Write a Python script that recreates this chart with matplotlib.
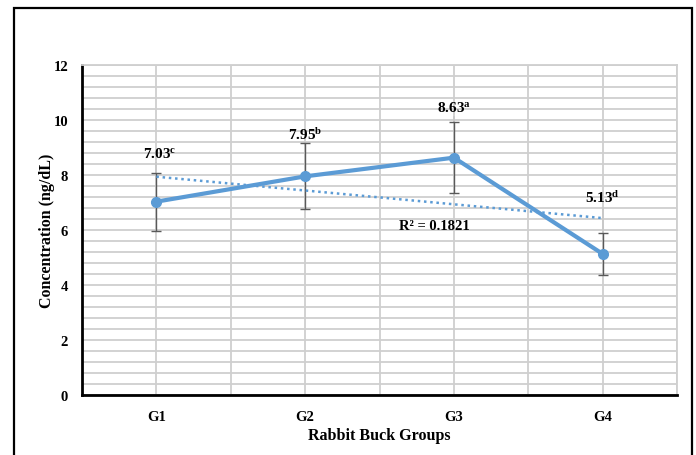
import numpy as np
import matplotlib
matplotlib.use("Agg")
import matplotlib.pyplot as plt
from matplotlib.ticker import MultipleLocator
from matplotlib.patches import Rectangle

groups = ["G1", "G2", "G3", "G4"]
means = [7.03, 7.95, 8.63, 5.13]
errors = [1.05, 1.20, 1.30, 0.76]
letters = ["c", "b", "a", "d"]

plt.rcParams['font.family'] = ['Liberation Serif', 'DejaVu Serif']
plt.rcParams['font.weight'] = 'bold'
plt.rcParams['mathtext.fontset'] = 'custom'
plt.rcParams['mathtext.rm'] = 'Liberation Serif:bold'
plt.rcParams['mathtext.it'] = 'Liberation Serif:bold'
plt.rcParams['mathtext.bf'] = 'Liberation Serif:bold'

fig = plt.figure(figsize=(6.96, 4.56), dpi=100)
ax = fig.add_axes([0.1178, 0.1316, 0.855, 0.7237])

# outer frame
fig.patches.append(Rectangle((14 / 696, -0.05), (692 - 14) / 696, 1.05 - 9 / 456,
                             transform=fig.transFigure, fill=False,
                             edgecolor='black', linewidth=1.6, zorder=0))

x = np.arange(len(groups))
blue = '#5B9BD5'

ax.errorbar(x, means, yerr=errors, fmt='none', ecolor='#595959',
            elinewidth=1, capsize=3.5, capthick=1, zorder=3)
ax.plot(x, means, color=blue, linewidth=3, marker='o', markersize=7, zorder=4)

# linear trendline
slope, intercept = np.polyfit(x, means, 1)
fit = slope * x + intercept
r2 = 1 - np.sum((np.array(means) - fit) ** 2) / np.sum((np.array(means) - np.mean(means)) ** 2)
ax.plot(x, fit, color=blue, linestyle=(0, (1, 1.5)), linewidth=1.8, zorder=3)
ax.text(1.87, 6.18, "R² = %.4f" % r2, fontsize=10.5, fontweight='bold',
        ha='center', va='center')

# data labels with leader lines
label_y = [8.55, 9.2, 10.2, 6.9]
label_dx = [0.02, 0.0, 0.0, 0.0]
for xi, m, e, ly, lt, dx in zip(x, means, errors, label_y, letters, label_dx):
    ax.plot([xi, xi], [m + e, ly - 0.1], color='#c8c8c8', linewidth=1.2, zorder=2)
    ax.text(xi + dx, ly, "%.2f$^{\\mathrm{%s}}$" % (m, lt), fontsize=11,
            fontweight='bold', ha='center', va='bottom')

ax.set_xlim(-0.5, 3.5)
ax.set_ylim(0, 12)
ax.set_xticks(x)
ax.set_xticklabels(groups)
ax.xaxis.set_minor_locator(MultipleLocator(0.5))
ax.yaxis.set_major_locator(MultipleLocator(2))
ax.yaxis.set_minor_locator(MultipleLocator(0.4))
ax.grid(which='both', color='#cfcfcf', linewidth=1.3)
ax.set_axisbelow(True)
ax.tick_params(which='both', length=0, labelsize=10.5)
ax.tick_params(axis='x', pad=11)
ax.tick_params(axis='y', pad=10)

for side in ['top', 'right']:
    ax.spines[side].set_color('#cfcfcf')
    ax.spines[side].set_linewidth(1.3)
for side in ['left', 'bottom']:
    ax.spines[side].set_color('black')
    ax.spines[side].set_linewidth(2)

ax.set_xlabel("Rabbit Buck Groups", fontsize=11.5, fontweight='bold', labelpad=3)
ax.set_ylabel("Concentration (ng/dL)", fontsize=11.5, fontweight='bold', labelpad=-1)

fig.savefig("out.png", dpi=100)
